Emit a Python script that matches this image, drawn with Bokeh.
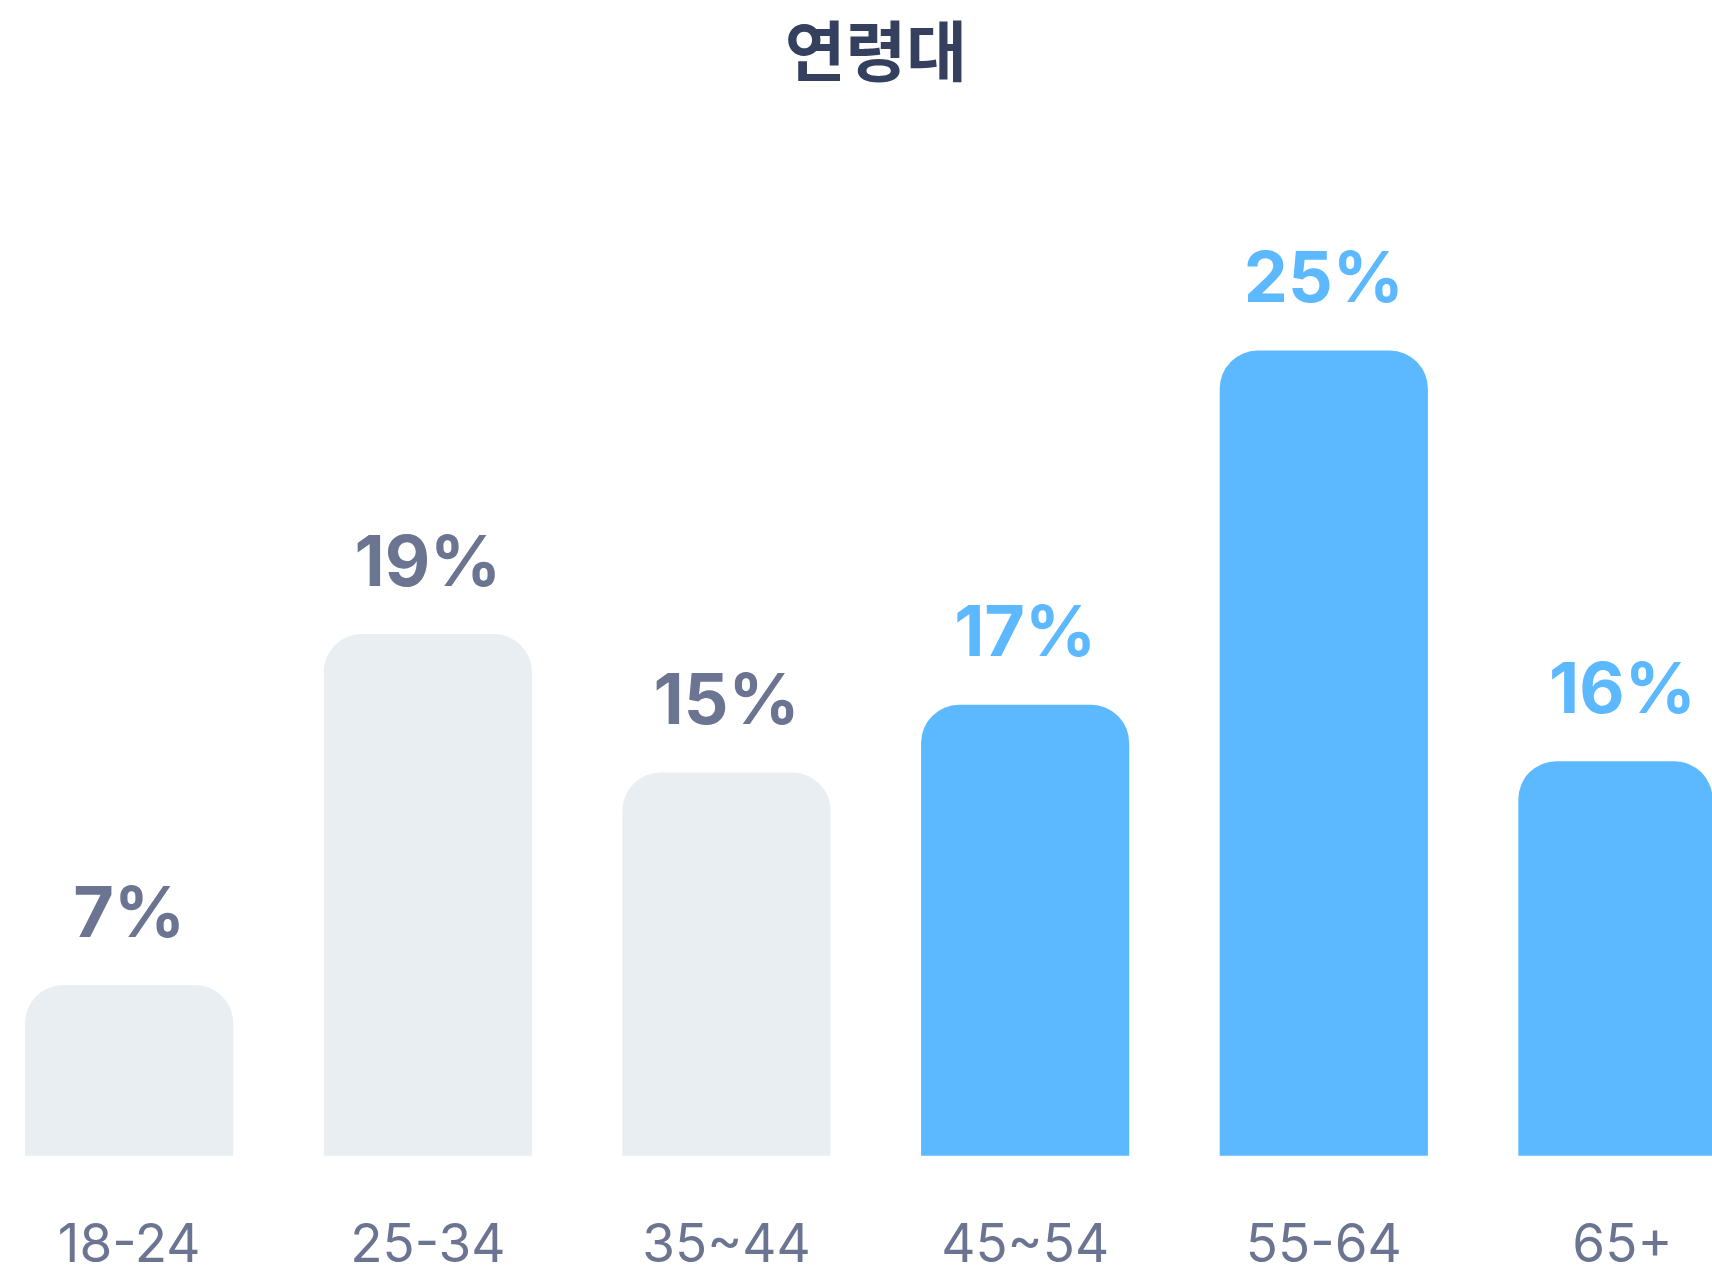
from bokeh.plotting import figure
from bokeh.models import ColumnDataSource, Range1d
from bokeh.core.properties import value
from bokeh.embed import file_html
from bokeh.resources import INLINE

# ---- data ----
title_text = "연령대"
categories = ["18-24", "25-34", "35~44", "45~54", "55-64", "65+"]
percents = [7, 19, 15, 17, 25, 16]
# bar heights as drawn in the picture (same % scale)
bar_heights = [5.3, 16.2, 11.9, 14.0, 25.0, 12.25]
highlight = [False, False, False, True, True, True]

GREY_BAR = "#E9EEF2"
BLUE = "#5CB8FF"
GREY_TEXT = "#6B7491"
TITLE_COLOR = "#34405E"

idx = list(range(len(categories)))
src = ColumnDataSource(dict(
    x=idx,
    top=bar_heights,
    label=[f"{v}%" for v in percents],
    cat=categories,
    bar_color=[BLUE if h else GREY_BAR for h in highlight],
    lab_color=[BLUE if h else GREY_TEXT for h in highlight],
))

W, H = 1712, 1274
Y_END = 35.868
p = figure(width=W, height=H, output_backend="svg", toolbar_location=None,
           x_range=Range1d(-0.4309, 5.3016), y_range=Range1d(-3.685, Y_END),
           min_border=0, min_border_left=0, min_border_right=0,
           min_border_top=0, min_border_bottom=0)
p.axis.visible = False
p.grid.visible = False
p.outline_line_color = None
p.background_fill_color = "white"
p.border_fill_color = "white"

p.vbar(x="x", top="top", bottom=0, width=0.697, source=src,
       fill_color="bar_color", line_color=None,
       border_radius=(38, 38, 0, 0))

p.text(x="x", y="top", text="label", source=src,
       text_color="lab_color", text_font=value("Inter"),
       text_font_style="bold", text_font_size="70px",
       text_align="center", text_baseline="alphabetic", y_offset=-74)

p.text(x="x", y=0, text="cat", source=src,
       text_color=GREY_TEXT, text_font=value("Inter"),
       text_font_size="53px", text_align="center",
       text_baseline="alphabetic", y_offset=87)

center_x = (len(categories) - 1) / 2
p.text(x=[center_x], y=[Y_END], text=[title_text],
       text_color=TITLE_COLOR, text_font=value("Noto Sans CJK KR"),
       text_font_style="bold", text_font_size="66px",
       text_align="center", text_baseline="middle", y_offset=46)

open("out.html", "w").write(file_html(p, INLINE))
